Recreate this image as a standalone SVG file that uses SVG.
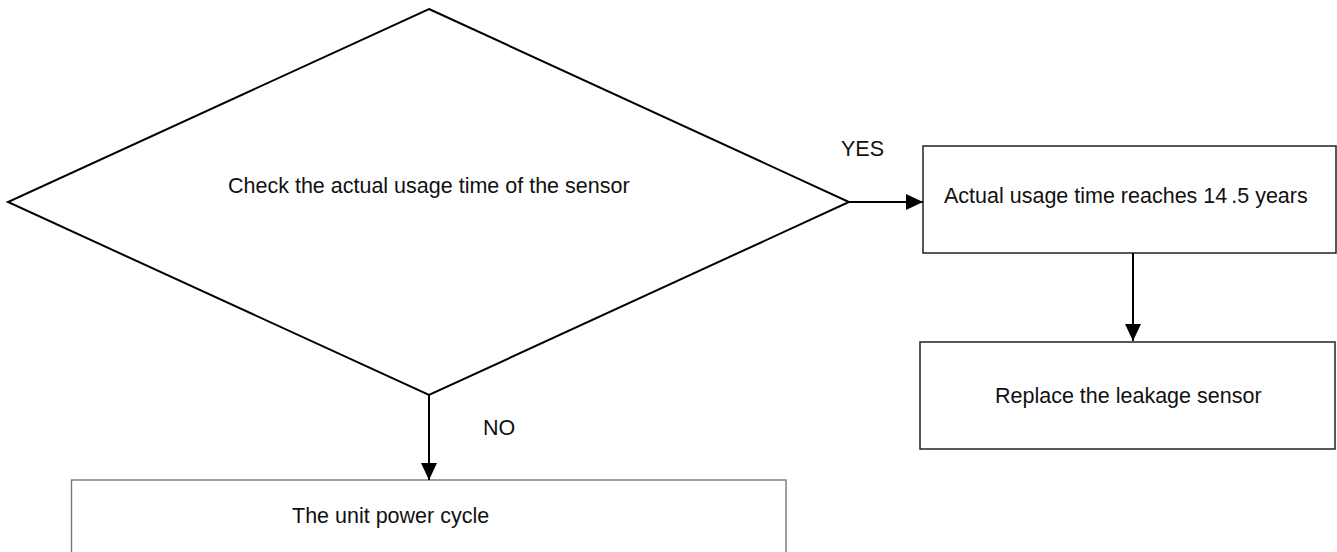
<svg xmlns="http://www.w3.org/2000/svg" width="1337" height="552" viewBox="0 0 1337 552">
<defs>
<style>
text{font-family:"Liberation Sans",Arial,sans-serif;font-size:21.5px;fill:#111}
.dia{fill:#fff;stroke:#000;stroke-width:2}
.box{fill:#fff;stroke:#222;stroke-width:1.5}
.boxg{fill:#fff;stroke:#777;stroke-width:1.4}
.conn{fill:none;stroke:#000;stroke-width:2}
</style>
<marker id="arr" viewBox="0 0 17 16" refX="17" refY="8" markerWidth="17" markerHeight="16" markerUnits="userSpaceOnUse" orient="auto">
<path d="M0,0 L17,8 L0,16 Z" fill="#000"/>
</marker>
</defs>
<rect width="1337" height="552" fill="#fff"/>
<g id="check">
<polygon class="dia" points="429,9 849,202 429,395 8,202"/>
<text x="228" y="193">Check the actual usage time of the sensor</text>
</g>
<g id="reaches">
<rect class="box" x="923" y="146" width="413" height="107"/>
<text x="944" y="203">Actual usage time reaches 14<tspan dx="4">.5 years</tspan></text>
</g>
<g id="replace">
<rect class="box" x="920" y="342" width="415" height="107"/>
<text x="995" y="403">Replace the leakage sensor</text>
</g>
<g id="power">
<rect class="boxg" x="71.5" y="480" width="714.5" height="100"/>
<text x="292" y="523">The unit power cycle</text>
</g>
<g id="connectors">
<line class="conn" x1="849" y1="202" x2="923" y2="202" marker-end="url(#arr)"/>
<line class="conn" x1="1133" y1="253" x2="1133" y2="341" marker-end="url(#arr)"/>
<line class="conn" x1="429" y1="395" x2="429" y2="480" marker-end="url(#arr)"/>
<text x="841" y="156">YES</text>
<text x="483" y="435">NO</text>
</g>
</svg>
